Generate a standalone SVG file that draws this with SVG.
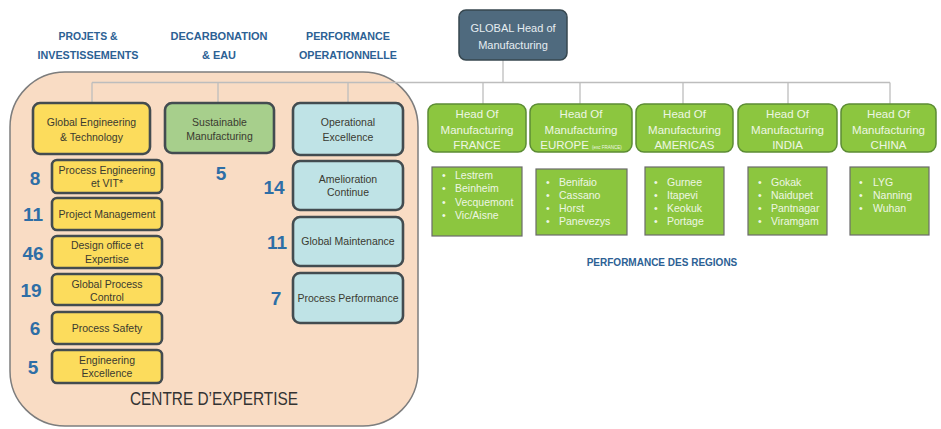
<svg xmlns="http://www.w3.org/2000/svg" width="941" height="429" viewBox="0 0 941 429">
  <style>
    text { font-family: "Liberation Sans", Arial, sans-serif; }
    .head { font-size: 11.5px; font-weight: bold; fill: #2c6194; text-anchor: middle; }
    .num { font-size: 19px; font-weight: bold; fill: #2e6ea6; text-anchor: middle; }
    .lbl { font-size: 10.5px; fill: #3a3a30; text-anchor: middle; }
    .yel { fill: #fcdc5c; stroke: #434c50; stroke-width: 2.6; }
    .grn { fill: #a7cf8c; stroke: #434c50; stroke-width: 2.6; }
    .teal { fill: #bfe3e6; stroke: #434c50; stroke-width: 2.6; }
    .reg { fill: #8cc63f; stroke: #5c8c34; stroke-width: 1.5; }
    .regt { font-size: 11.5px; fill: #eef6e4; text-anchor: middle; }
    .site { fill: #8cc63f; stroke: #6b6b6b; stroke-width: 1.2; }
    .sitet { font-size: 10.5px; fill: #eef6e4; }
    .conn { stroke: #bdbdbd; stroke-width: 1.3; fill: none; }
  </style>

  <!-- column headings -->
  <g id="headings">
    <text class="head" x="88" y="40" textLength="59" lengthAdjust="spacingAndGlyphs">PROJETS &amp;</text>
    <text class="head" x="88" y="59" textLength="101" lengthAdjust="spacingAndGlyphs">INVESTISSEMENTS</text>
    <text class="head" x="219" y="40" textLength="97" lengthAdjust="spacingAndGlyphs">DECARBONATION</text>
    <text class="head" x="219" y="59" textLength="34" lengthAdjust="spacingAndGlyphs">&amp; EAU</text>
    <text class="head" x="348" y="40" textLength="84" lengthAdjust="spacingAndGlyphs">PERFORMANCE</text>
    <text class="head" x="348" y="59" textLength="98" lengthAdjust="spacingAndGlyphs">OPERATIONNELLE</text>
  </g>

  <!-- expertise centre container -->
  <g id="centre-expertise">
    <rect x="10" y="72" width="408" height="354" rx="55" fill="#f9dcc4" stroke="#7d7d7d" stroke-width="1.5"/>
    <text x="214" y="405" font-size="18" fill="#333" text-anchor="middle" textLength="168" lengthAdjust="spacingAndGlyphs">CENTRE D’EXPERTISE</text>
  </g>

  <!-- connectors -->
  <g id="connectors">
    <path class="conn" d="M92 82.5 H890"/>
    <path class="conn" d="M92 82.5 V103 M218 82.5 V103 M348 82.5 V103"/>
    <path class="conn" d="M503 60 V82.5"/>
    <path class="conn" d="M483 82.5 V104 M580 82.5 V104 M683 82.5 V104 M788 82.5 V104 M890 82.5 V104"/>
  </g>

  <!-- global head -->
  <g id="global-head">
    <rect x="459" y="10" width="108" height="50" rx="7" fill="#4f6a7e" stroke="#37474f" stroke-width="1.5"/>
    <text x="513" y="32" font-size="11" fill="#e6edf1" text-anchor="middle">GLOBAL Head of</text>
    <text x="513" y="49" font-size="11" fill="#e6edf1" text-anchor="middle">Manufacturing</text>
  </g>

  <!-- projets & investissements -->
  <g id="global-engineering">
    <rect class="yel" x="33" y="103" width="117" height="51" rx="7"/>
    <text class="lbl" x="91.5" y="126">Global Engineering</text>
    <text class="lbl" x="91.5" y="141">&amp; Technology</text>
  </g>
  <g id="process-engineering">
    <rect class="yel" x="52" y="160" width="110" height="33" rx="5"/>
    <text class="lbl" x="107" y="174">Process Engineering</text>
    <text class="lbl" x="107" y="187">et VIT*</text>
    <text class="num" x="35" y="185">8</text>
  </g>
  <g id="project-management">
    <rect class="yel" x="52" y="198" width="110" height="32" rx="5"/>
    <text class="lbl" x="107" y="218">Project Management</text>
    <text class="num" x="33" y="221">11</text>
  </g>
  <g id="design-office">
    <rect class="yel" x="52" y="236" width="110" height="32" rx="5"/>
    <text class="lbl" x="107" y="249">Design office et</text>
    <text class="lbl" x="107" y="263">Expertise</text>
    <text class="num" x="33" y="260">46</text>
  </g>
  <g id="global-process-control">
    <rect class="yel" x="52" y="274" width="110" height="31" rx="5"/>
    <text class="lbl" x="107" y="288">Global Process</text>
    <text class="lbl" x="107" y="301">Control</text>
    <text class="num" x="31" y="297">19</text>
  </g>
  <g id="process-safety">
    <rect class="yel" x="52" y="312" width="110" height="32" rx="5"/>
    <text class="lbl" x="107" y="332">Process Safety</text>
    <text class="num" x="35" y="335">6</text>
  </g>
  <g id="engineering-excellence">
    <rect class="yel" x="52" y="350" width="110" height="33" rx="5"/>
    <text class="lbl" x="107" y="364">Engineering</text>
    <text class="lbl" x="107" y="377">Excellence</text>
    <text class="num" x="33" y="374">5</text>
  </g>

  <!-- decarbonation -->
  <g id="sustainable-manufacturing">
    <rect class="grn" x="165" y="103" width="109" height="50" rx="7"/>
    <text class="lbl" x="219.5" y="126">Sustainable</text>
    <text class="lbl" x="219.5" y="140">Manufacturing</text>
    <text class="num" x="221" y="180">5</text>
  </g>

  <!-- performance operationnelle -->
  <g id="operational-excellence">
    <rect class="teal" x="293" y="103" width="110" height="52" rx="7"/>
    <text class="lbl" x="348" y="126">Operational</text>
    <text class="lbl" x="348" y="141">Excellence</text>
  </g>
  <g id="amelioration-continue">
    <rect class="teal" x="293" y="161" width="110" height="49" rx="7"/>
    <text class="lbl" x="348" y="183">Amelioration</text>
    <text class="lbl" x="348" y="196">Continue</text>
    <text class="num" x="274" y="194">14</text>
  </g>
  <g id="global-maintenance">
    <rect class="teal" x="293" y="217" width="110" height="49" rx="7"/>
    <text class="lbl" x="348" y="245">Global Maintenance</text>
    <text class="num" x="277" y="249">11</text>
  </g>
  <g id="process-performance">
    <rect class="teal" x="293" y="273" width="110" height="50" rx="7"/>
    <text class="lbl" x="348" y="302">Process Performance</text>
    <text class="num" x="276" y="305">7</text>
  </g>

  <!-- regional heads -->
  <g id="head-france">
    <rect class="reg" x="428" y="104" width="98" height="48" rx="8"/>
    <text class="regt" x="477" y="118">Head Of</text>
    <text class="regt" x="477" y="134">Manufacturing</text>
    <text class="regt" x="477" y="149">FRANCE</text>
  </g>
  <g id="head-europe">
    <rect class="reg" x="530" y="104" width="102" height="48" rx="8"/>
    <text class="regt" x="581" y="118">Head Of</text>
    <text class="regt" x="581" y="134">Manufacturing</text>
    <text class="regt" x="581" y="149">EUROPE <tspan font-size="4.5">(exc FRANCE)</tspan></text>
  </g>
  <g id="head-americas">
    <rect class="reg" x="636" y="104" width="97" height="48" rx="8"/>
    <text class="regt" x="684.5" y="118">Head Of</text>
    <text class="regt" x="684.5" y="134">Manufacturing</text>
    <text class="regt" x="684.5" y="149">AMERICAS</text>
  </g>
  <g id="head-india">
    <rect class="reg" x="738" y="104" width="99" height="48" rx="8"/>
    <text class="regt" x="787.5" y="118">Head Of</text>
    <text class="regt" x="787.5" y="134">Manufacturing</text>
    <text class="regt" x="787.5" y="149">INDIA</text>
  </g>
  <g id="head-china">
    <rect class="reg" x="841" y="104" width="95" height="48" rx="8"/>
    <text class="regt" x="888.5" y="118">Head Of</text>
    <text class="regt" x="888.5" y="134">Manufacturing</text>
    <text class="regt" x="888.5" y="149">CHINA</text>
  </g>

  <!-- regional sites -->
  <g id="sites-france">
    <rect class="site" x="432" y="167" width="90" height="69"/>
    <text class="sitet" x="442" y="179">•</text><text class="sitet" x="455" y="179">Lestrem</text>
    <text class="sitet" x="442" y="192">•</text><text class="sitet" x="455" y="192">Beinheim</text>
    <text class="sitet" x="442" y="206">•</text><text class="sitet" x="455" y="206">Vecquemont</text>
    <text class="sitet" x="442" y="219">•</text><text class="sitet" x="455" y="219">Vic/Aisne</text>
  </g>
  <g id="sites-europe">
    <rect class="site" x="536" y="169" width="91" height="66"/>
    <text class="sitet" x="546" y="186">•</text><text class="sitet" x="559" y="186">Benifaio</text>
    <text class="sitet" x="546" y="199">•</text><text class="sitet" x="559" y="199">Cassano</text>
    <text class="sitet" x="546" y="212">•</text><text class="sitet" x="559" y="212">Horst</text>
    <text class="sitet" x="546" y="225">•</text><text class="sitet" x="559" y="225">Panevezys</text>
  </g>
  <g id="sites-americas">
    <rect class="site" x="645" y="167" width="79" height="68"/>
    <text class="sitet" x="654" y="186">•</text><text class="sitet" x="667" y="186">Gurnee</text>
    <text class="sitet" x="654" y="199">•</text><text class="sitet" x="667" y="199">Itapevi</text>
    <text class="sitet" x="654" y="212">•</text><text class="sitet" x="667" y="212">Keokuk</text>
    <text class="sitet" x="654" y="225">•</text><text class="sitet" x="667" y="225">Portage</text>
  </g>
  <g id="sites-india">
    <rect class="site" x="748" y="167" width="79" height="68"/>
    <text class="sitet" x="758" y="186">•</text><text class="sitet" x="771" y="186">Gokak</text>
    <text class="sitet" x="758" y="199">•</text><text class="sitet" x="771" y="199">Naidupet</text>
    <text class="sitet" x="758" y="212">•</text><text class="sitet" x="771" y="212">Pantnagar</text>
    <text class="sitet" x="758" y="225">•</text><text class="sitet" x="771" y="225">Viramgam</text>
  </g>
  <g id="sites-china">
    <rect class="site" x="850" y="167" width="79" height="68"/>
    <text class="sitet" x="859" y="186">•</text><text class="sitet" x="873" y="186">LYG</text>
    <text class="sitet" x="859" y="199">•</text><text class="sitet" x="873" y="199">Nanning</text>
    <text class="sitet" x="859" y="212">•</text><text class="sitet" x="873" y="212">Wuhan</text>
  </g>

  <text x="662" y="266" font-size="10" font-weight="bold" fill="#2c6194" text-anchor="middle">PERFORMANCE DES REGIONS</text>
</svg>
